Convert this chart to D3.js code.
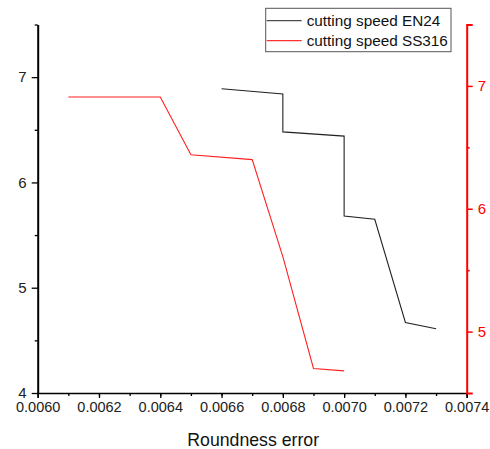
<!DOCTYPE html>
<html>
<head>
<meta charset="utf-8">
<script src="https://cdn.jsdelivr.net/npm/d3@7"></script>
<style>
  body { margin: 0; background: #fff; }
  svg text { font-family: Arial, "Liberation Sans", sans-serif; }
</style>
</head>
<body>
<div id="chart"></div>
<script>
// roundness error (x) vs cutting speed, two materials
var en24X = [0.0066, 0.0068, 0.0068, 0.0070, 0.0070, 0.0071, 0.0072, 0.0073];
var en24Y = [6.89, 6.84, 6.48, 6.44, 5.68, 5.65, 4.67, 4.61];

var ss316X = [0.0061, 0.0064, 0.0065, 0.0067, 0.0068, 0.0069, 0.0070];
var ss316Y = [6.91, 6.91, 6.44, 6.40, 5.61, 4.70, 4.68];

var xTicks = [0.0060, 0.0062, 0.0064, 0.0066, 0.0068, 0.0070, 0.0072, 0.0074];
var leftTicks = [4, 5, 6, 7];
var rightTicks = [5, 6, 7];

var seriesNames = ["cutting speed EN24", "cutting speed SS316"];

var width = 490, height = 449;
var margin = {top: 24.5, right: 23.3, bottom: 56, left: 37.7};
var w = width - margin.left - margin.right,
    h = height - margin.top - margin.bottom;

var svg = d3.select("#chart").append("svg")
   .attr("width", width)
   .attr("height", height);

var g = svg.append("g")
   .attr("transform", "translate(" + margin.left + "," + margin.top + ")");

var x = d3.scaleLinear().domain([0.0060, 0.0074]).range([0, w]);
var yL = d3.scaleLinear().domain([4, 7.5]).range([h, 0]);
var yR = d3.scaleLinear().domain([4.5, 7.5]).range([h, 0]);

// bottom axis: labelled majors + minor ticks
var xMinor = d3.range(0, 15).map(function(i) { return 0.0060 + i * 0.0001; });
g.append("g")
   .attr("transform", "translate(0," + h + ")")
   .call(d3.axisBottom(x).tickValues(xMinor).tickSize(3).tickFormat(""))
   .call(function(s) { s.select(".domain").remove(); s.selectAll("line").attr("stroke", "#000").attr("stroke-width", 1.3); });

g.append("g")
   .attr("class", "xAxis")
   .attr("transform", "translate(0," + h + ")")
   .call(d3.axisBottom(x).tickValues(xTicks).tickSize(5).tickPadding(4).tickFormat(d3.format(".4f")))
   .call(function(s) {
      s.select(".domain").attr("stroke", "#000").attr("stroke-width", 1.5);
      s.selectAll("line").attr("stroke", "#000").attr("stroke-width", 1.3);
      s.selectAll("text").attr("fill", "#222").style("font-size", "14.5px");
   });

// left axis
g.append("g")
   .call(d3.axisLeft(yL).tickValues([4.5, 5.5, 6.5, 7.5]).tickSize(3).tickFormat(""))
   .call(function(s) { s.select(".domain").remove(); s.selectAll("line").attr("stroke", "#000").attr("stroke-width", 1.3); });

g.append("g")
   .call(d3.axisLeft(yL).tickValues(leftTicks).tickSize(6).tickPadding(5).tickSizeOuter(0).tickFormat(d3.format("d")))
   .call(function(s) {
      s.select(".domain").attr("stroke", "#000").attr("stroke-width", 2);
      s.selectAll("line").attr("stroke", "#000").attr("stroke-width", 1.3);
      s.selectAll("text").attr("fill", "#222").style("font-size", "15px");
   });

// right axis, red
g.append("g")
   .attr("transform", "translate(" + w + ",0)")
   .call(d3.axisRight(yR).tickValues([5.5, 6.5, 7.5]).tickSize(3).tickFormat(""))
   .call(function(s) { s.select(".domain").remove(); s.selectAll("line").attr("stroke", "#ff0000").attr("stroke-width", 1.5); });

g.append("g")
   .attr("transform", "translate(" + w + ",0)")
   .call(d3.axisRight(yR).tickValues(rightTicks).tickSize(6).tickPadding(5).tickSizeOuter(6).tickFormat(d3.format("d")))
   .call(function(s) {
      s.select(".domain").attr("stroke", "#ff0000").attr("stroke-width", 2);
      s.selectAll("line").attr("stroke", "#ff0000").attr("stroke-width", 1.5);
      s.selectAll("text").attr("fill", "#ff0000").style("font-size", "15px");
   });

// axis title
svg.append("text")
   .attr("x", margin.left + w / 2 + 1)
   .attr("y", 446)
   .attr("text-anchor", "middle")
   .style("font-size", "17.7px")
   .attr("fill", "#111")
   .text("Roundness error");

// lines
var en24 = en24X.map(function(d, i) { return [d, en24Y[i]]; });
var ss316 = ss316X.map(function(d, i) { return [d, ss316Y[i]]; });

g.append("path")
   .datum(en24)
   .attr("fill", "none")
   .attr("stroke", "#222")
   .attr("stroke-width", 1.1)
   .attr("d", d3.line().x(function(d) { return x(d[0]); }).y(function(d) { return yL(d[1]); }));

g.append("path")
   .datum(ss316)
   .attr("fill", "none")
   .attr("stroke", "#ff2020")
   .attr("stroke-width", 1.1)
   .attr("d", d3.line().x(function(d) { return x(d[0]); }).y(function(d) { return yR(d[1]); }));

// legend
var legend = svg.append("g").attr("transform", "translate(265.7,8.3)");
legend.append("rect")
   .attr("width", 185.3)
   .attr("height", 43.4)
   .attr("fill", "#fff")
   .attr("stroke", "#555")
   .attr("stroke-width", 1);

var legColors = ["#222", "#ff0000"];
seriesNames.forEach(function(name, i) {
   var yy = 12.4 + i * 20;
   legend.append("line")
      .attr("x1", 1).attr("x2", 36)
      .attr("y1", yy).attr("y2", yy)
      .attr("stroke", legColors[i])
      .attr("stroke-width", 1);
   legend.append("text")
      .attr("x", 41)
      .attr("y", yy + 5.2)
      .style("font-size", "15.3px")
      .attr("fill", "#111")
      .text(name);
});
</script>
</body>
</html>
